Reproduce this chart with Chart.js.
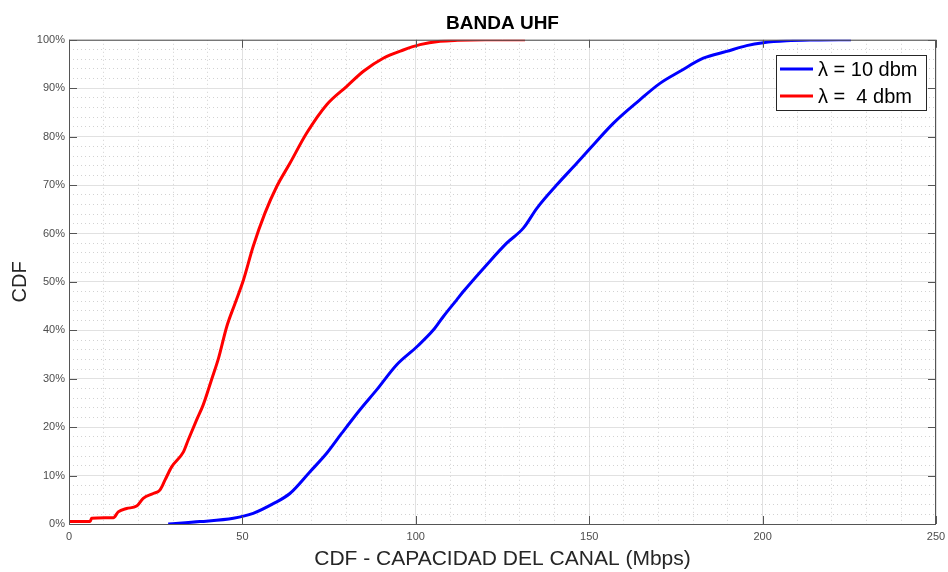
<!DOCTYPE html>
<html>
<head>
<meta charset="utf-8">
<script src="https://cdn.jsdelivr.net/npm/chart.js@4"></script>
<style>
  body { margin: 0; background: #fff; }
  #wrap { width: 948px; height: 572px; }
</style>
</head>
<body>
<div id="wrap"><canvas id="myChart" width="948" height="572"></canvas></div>
<script>
// values (x in Mbps, y in %)
const blueX = [28.6, 37.8, 47.4, 53.1, 58.9, 63.7, 69.5, 74.3, 78.6, 83.9, 88.7, 94.5, 100.3, 105.1, 107.9, 111.8, 113.7, 120.4, 126.2, 131, 134.9, 140.6, 146.4, 150.3, 157, 164.6, 170.4, 176.2, 182.9, 189.6, 195.4, 200.2, 206.9, 215, 225.5];
const blueY = [0, 0.5, 1.2, 2.2, 4.2, 6.3, 10.8, 14.6, 18.7, 23.6, 27.7, 32.9, 36.6, 40.1, 42.8, 46.3, 48, 53.5, 58, 61.1, 65.2, 70, 74.5, 77.6, 82.8, 87.6, 91, 93.5, 96.2, 97.6, 98.8, 99.4, 99.8, 99.95, 100];

const redX = [0, 6.1, 6.5, 12.8, 14.2, 16.6, 19.5, 21.4, 24.3, 26.2, 27.7, 29.6, 33, 34.4, 36.8, 38.7, 41.1, 43.1, 45.5, 47.9, 50.3, 53.1, 56.5, 59.9, 63.7, 68.5, 74.3, 80.1, 84.9, 90.6, 96.4, 101.2, 107, 112, 120, 131.5];
const redY = [0.5, 0.5, 1.2, 1.3, 2.5, 3.2, 3.7, 5.3, 6.3, 7, 9.1, 11.8, 14.9, 17.4, 21.5, 24.6, 29.8, 34.2, 40.8, 45.6, 50.4, 57.3, 64.2, 69.7, 74.5, 80.7, 86.6, 90.4, 93.5, 96.2, 97.9, 99, 99.7, 99.9, 100, 100];

const seriesLabels = ['\u03BB = 10 dbm', '\u03BB =  4 dbm'];
const xTicks = [0, 50, 100, 150, 200, 250];
const yTicks = [0, 10, 20, 30, 40, 50, 60, 70, 80, 90, 100];

const FONT = "'Liberation Sans', Arial, Helvetica, sans-serif";

function toPoints(xs, ys) {
    return xs.map((x, i) => ({ x: x, y: ys[i] }));
}

// box round the axes, small inner ticks and the legend (matlab look)
const matlabBox = {
    id: 'matlabBox',
    afterDatasetsDraw(chart) {
        const ctx = chart.ctx;
        const a = chart.chartArea;
        const xs = chart.scales.x, ys = chart.scales.y;
        ctx.save();
        ctx.strokeStyle = '#555';
        ctx.lineWidth = 1;
        ctx.strokeRect(a.left + 0.5, a.top + 0.5, a.right - a.left - 1, a.bottom - a.top);
        ctx.beginPath();
        xTicks.forEach(v => {
            const px = Math.round(xs.getPixelForValue(v)) + 0.5;
            ctx.moveTo(px, a.bottom); ctx.lineTo(px, a.bottom - 8);
            ctx.moveTo(px, a.top); ctx.lineTo(px, a.top + 8);
        });
        yTicks.forEach(v => {
            const py = Math.round(ys.getPixelForValue(v)) + 0.5;
            ctx.moveTo(a.left, py); ctx.lineTo(a.left + 8, py);
            ctx.moveTo(a.right, py); ctx.lineTo(a.right - 8, py);
        });
        ctx.stroke();

        // legend
        const lx = 776, ly = 55, lw = 150, lh = 55;
        ctx.fillStyle = '#fff';
        ctx.fillRect(lx, ly, lw, lh);
        ctx.strokeStyle = '#262626';
        ctx.strokeRect(lx + 0.5, ly + 0.5, lw, lh);
        ctx.font = '20px ' + FONT;
        ctx.textBaseline = 'middle';
        chart.data.datasets.forEach((ds, i) => {
            const y = ly + 14 + i * 27;
            ctx.strokeStyle = ds.borderColor;
            ctx.lineWidth = 3;
            ctx.beginPath();
            ctx.moveTo(lx + 4, y); ctx.lineTo(lx + 37, y);
            ctx.stroke();
            ctx.fillStyle = '#000';
            ctx.fillText(ds.label, lx + 42, y + 1);
        });
        ctx.restore();
    }
};

const ctx = document.getElementById('myChart').getContext('2d');
const myChart = new Chart(ctx, {
    type: 'line',
    data: {
        datasets: [{
            label: seriesLabels[0],
            data: toPoints(blueX, blueY),
            borderColor: '#0000ff',
            backgroundColor: '#0000ff',
            borderWidth: 3,
            pointRadius: 0,
            cubicInterpolationMode: 'monotone'
        }, {
            label: seriesLabels[1],
            data: toPoints(redX, redY),
            borderColor: '#ff0000',
            backgroundColor: '#ff0000',
            borderWidth: 3,
            pointRadius: 0,
            cubicInterpolationMode: 'monotone'
        }]
    },
    options: {
        responsive: false,
        animation: false,
        layout: { padding: { left: 8, right: 12, top: 0, bottom: 0 } },
        plugins: {
            legend: { display: false },
            tooltip: { enabled: false },
            title: {
                display: true,
                fullSize: false,
                text: 'BANDA UHF',
                color: '#000',
                font: { family: FONT, size: 19, weight: 'bold' },
                padding: { top: 12, bottom: 5 }
            }
        },
        scales: {
            x: {
                type: 'linear',
                min: 0,
                max: 250,
                afterFit: s => { s.height = 48; s.paddingLeft = 0; s.paddingRight = 0; },
                ticks: {
                    stepSize: 10,
                    autoSkip: false,
                    maxRotation: 0,
                    padding: 6,
                    color: '#4d4d4d',
                    font: { family: FONT, size: 11 },
                    callback: v => (v % 50 === 0 ? String(v) : '')
                },
                grid: {
                    drawTicks: false,
                    color: c => (c.tick && c.tick.value % 50 === 0 ? '#e1e1e1' : '#d2d2d2'),
                    lineWidth: 1
                },
                border: {
                    display: false,
                    dash: c => (c.tick && c.tick.value % 50 !== 0 ? [1, 3] : [])
                },
                title: {
                    display: true,
                    text: 'CDF - CAPACIDAD DEL CANAL (Mbps)',
                    color: '#262626',
                    font: { family: FONT, size: 21 },
                    padding: { top: 0, bottom: 0 }
                }
            },
            y: {
                min: 0,
                max: 100,
                afterFit: s => { s.width = 61; s.paddingTop = 0; s.paddingBottom = 0; },
                ticks: {
                    stepSize: 2,
                    autoSkip: false,
                    padding: 4,
                    color: '#4d4d4d',
                    font: { family: FONT, size: 11 },
                    callback: v => (v % 10 === 0 ? v + '%' : '')
                },
                grid: {
                    drawTicks: false,
                    color: c => (c.tick && c.tick.value % 10 === 0 ? '#e1e1e1' : '#d2d2d2'),
                    lineWidth: 1
                },
                border: {
                    display: false,
                    dash: c => (c.tick && c.tick.value % 10 !== 0 ? [1, 3] : [])
                },
                title: {
                    display: true,
                    text: 'CDF',
                    color: '#262626',
                    font: { family: FONT, size: 20 },
                    padding: { top: 0, bottom: 0 }
                }
            }
        }
    },
    plugins: [matlabBox]
});
</script>
</body>
</html>
